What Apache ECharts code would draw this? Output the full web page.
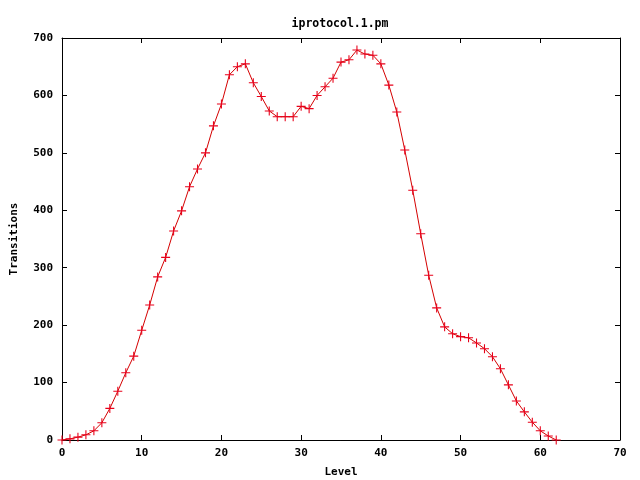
<!DOCTYPE html>
<html><head><meta charset="utf-8">
<script src="https://cdn.jsdelivr.net/npm/echarts@6/dist/echarts.min.js"></script>
<style>html,body{margin:0;padding:0;background:#fff}#c{width:640px;height:480px}</style>
</head><body><div id="c"></div>
<script>
const levels = [];
for (let i = 0; i <= 62; i++) levels.push(i);
const transitions = [0,2,5,9,16,30,55,85,117,146,191,235,284,318,364,399,441,472,500,547,585,636,650,655,622,598,573,563,563,563,581,577,600,615,630,658,662,679,672,670,655,618,571,505,435,359,287,230,197,185,180,178,169,159,145,124,96,68,49,31,16,7,0];
const title = 'iprotocol.1.pm';
const xName = 'Level';
const yName = 'Transitions';

const font = '"DejaVu Sans Mono", monospace';
const chart = echarts.init(document.getElementById('c'), null, {renderer: 'canvas'});
const plus = 'path://M-1,-0.12H1V0.12H-1Z M-0.12,-1H0.12V1H-0.12Z';
const axLine = {show: true, onZero: false, lineStyle: {color: '#000', width: 1}};
const ticks = {show: true, inside: true, length: 5, lineStyle: {color: '#000'}};
const lbl = {color: '#000', fontFamily: font, fontWeight: 'bold', fontSize: 11};
chart.setOption({
  animation: false,
  title: {text: title, left: 335, top: 13, textAlign: 'center',
    textStyle: {fontFamily: font, fontWeight: 'bold', fontSize: 11.5, color: '#000'}},
  grid: {left: 62, right: 20, top: 38, bottom: 40, containLabel: false, outerBoundsMode: 'none'},
  xAxis: [
    {type: 'value', min: 0, max: 70, interval: 10, position: 'bottom',
     name: xName, nameLocation: 'middle', nameGap: 27, nameTextStyle: lbl,
     axisLine: axLine, axisTick: ticks, axisLabel: Object.assign({margin: 8}, lbl), splitLine: {show: false}},
    {type: 'value', min: 0, max: 70, interval: 10, position: 'top',
     axisLine: axLine, axisTick: ticks, axisLabel: {show: false}, splitLine: {show: false}}
  ],
  yAxis: [
    {type: 'value', min: 0, max: 700, interval: 100, position: 'left',
     name: yName, nameLocation: 'middle', nameGap: 42, nameRotate: 90, nameTextStyle: lbl,
     axisLine: axLine, axisTick: ticks, axisLabel: Object.assign({margin: 9}, lbl), splitLine: {show: false}},
    {type: 'value', min: 0, max: 700, interval: 100, position: 'right',
     axisLine: axLine, axisTick: ticks, axisLabel: {show: false}, splitLine: {show: false}}
  ],
  series: [{
    type: 'line', xAxisIndex: 0, yAxisIndex: 0,
    data: levels.map((l, i) => [l, transitions[i]]),
    symbol: plus, symbolSize: 9, showAllSymbol: true,
    lineStyle: {color: '#d40000', width: 1},
    itemStyle: {color: '#e8001a'}
  }]
});
</script></body></html>
